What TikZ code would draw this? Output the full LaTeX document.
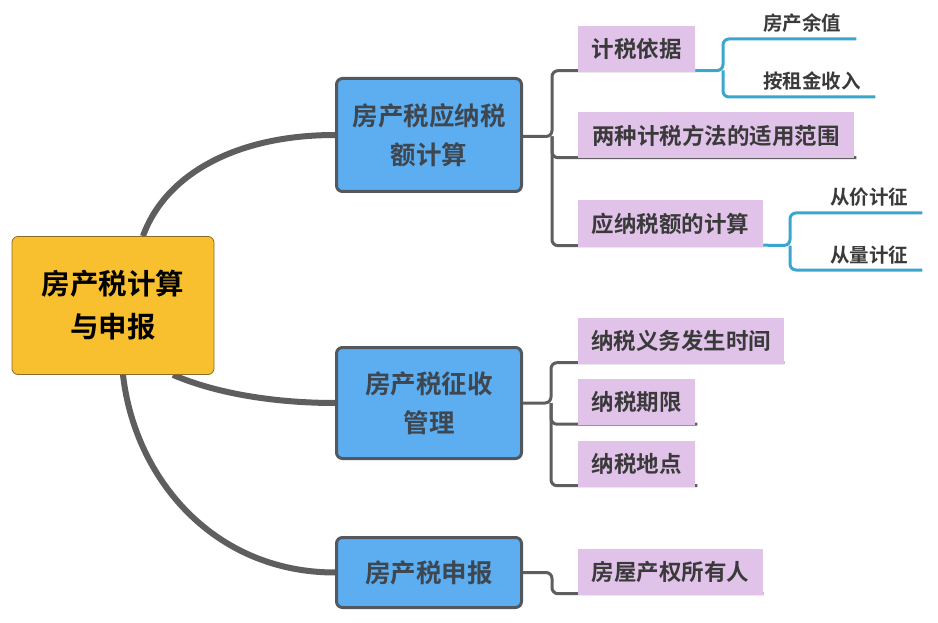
\documentclass[tikz,border=0pt]{standalone}
\usepackage{fontspec}
\usepackage{xcolor}
\usetikzlibrary{positioning,backgrounds}
\newfontfamily\cjk{Noto Sans CJK SC Bold}
\definecolor{amarillo}{HTML}{F8BF2E}
\definecolor{bordeRaiz}{HTML}{8A6A2A}
\definecolor{azulCaja}{HTML}{5CAEF0}
\definecolor{bordeTema}{HTML}{52585D}
\definecolor{textoTema}{HTML}{3E4650}
\definecolor{rosa}{HTML}{E1C3EA}
\definecolor{textoGris}{HTML}{3A3A3A}
\definecolor{grisRama}{HTML}{5E5E5E}
\definecolor{azulLinea}{HTML}{3AA6CE}

\begin{document}
\begin{tikzpicture}[x=1pt,y=-1pt,
    raiz/.style={draw=bordeRaiz, line width=0.8pt, fill=amarillo, rounded corners=6pt,
        minimum width=202pt, minimum height=138pt, align=center,
        font=\cjk\fontsize{28.5}{43}\selectfont, text=black},
    tema/.style={draw=bordeTema, line width=3pt, fill=azulCaja, rounded corners=6pt,
        minimum width=185pt, align=center,
        font=\cjk\fontsize{25.5}{39}\selectfont, text=textoTema},
    subtema/.style={fill=rosa, minimum height=46pt, inner xsep=0pt, anchor=west,
        font=\cjk\fontsize{22.5}{26}\selectfont, text=textoGris},
    hoja/.style={anchor=south west, inner xsep=0pt, inner ysep=6pt, align=left,
        font=\cjk\fontsize{19.5}{23}\selectfont, text=textoGris},
    rama/.style={draw=grisRama, line width=6pt},
    guia/.style={draw=grisRama, line width=3pt, rounded corners=6pt},
    guiaAzul/.style={draw=azulLinea, line width=3pt, rounded corners=6pt}]
    \useasboundingbox (0,0) rectangle (938,623);

    % Tema central y temas principales
    \node[raiz] (centro) at (113,305.5) {房产税计算\\与申报};
    \node[tema, minimum height=113pt] (calculo) at (429,135) {房产税应纳税\\额计算};
    \node[tema, minimum height=111pt] (gestion) at (429,403) {房产税征收\\管理};
    \node[tema, minimum height=70pt] (declaracion) at (429,572.5) {房产税申报};

    % Subtemas
    \node[subtema, minimum width=117pt] (base) at (578,49) {计税依据};
    \node[subtema, minimum width=276pt] (metodos) at (578,135.5) {两种计税方法的适用范围};
    \node[subtema, minimum width=185pt] (importe) at (578,223.5) {应纳税额的计算};
    \node[subtema, minimum width=206pt] (momento) at (578,341) {纳税义务发生时间};
    \node[subtema, minimum width=117pt] (plazo) at (578,402) {纳税期限};
    \node[subtema, minimum width=117pt] (lugar) at (578,463.5) {纳税地点};
    \node[subtema, minimum width=185pt] (titular) at (578,572) {房屋产权所有人};

    % Hojas
    \node[hoja, text width=93pt] (residual) at (763,39) {房产余值};
    \node[hoja, text width=112pt] (alquiler) at (763,97) {按租金收入};
    \node[hoja, text width=92pt] (valor) at (830,213) {从价计征};
    \node[hoja, text width=92pt] (cantidad) at (830,270) {从量计征};

    \begin{scope}[on background layer]
        \fill[white] (0,0) rectangle (938,623);
        % Ramas desde el centro
        \draw[rama] ([xshift=30pt]centro.north) .. controls (165,175) and (235,135) .. (calculo.west);
        \draw[rama] ([xshift=60pt]centro.south) .. controls (220,395) and (280,403) .. (gestion.west);
        \draw[rama] ([xshift=10pt]centro.south) .. controls (135,480) and (215,572.5) .. (declaracion.west);

        % Corchetes grises
        \draw[guia] ([yshift=-1.5pt]calculo.east) -- (552,136.5) |- ([yshift=1.5pt]base.south east);
        \draw[guia] (552,136.5) |- ([xshift=2pt,yshift=1pt]metodos.south east);
        \draw[guia] (552,136.5) |- ([yshift=1pt]importe.south east);
        \draw[guia] (gestion.east) -- (551,403) |- ([yshift=1.5pt]momento.south east);
        \draw[guia] (551,403) |- ([xshift=2pt,yshift=1pt]plazo.south east);
        \draw[guia] (551,403) |- ([xshift=2pt,yshift=1pt]lugar.south east);
        \draw[guia] (declaracion.east) -- (552,572.5) |- ([yshift=1.5pt]titular.south east);

        % Corchetes azules
        \draw[guiaAzul] ([yshift=1.5pt]base.south east) -- (723,70.5) |- (residual.south east);
        \draw[guiaAzul] (723,70.5) |- (alquiler.south east);
        \draw[guiaAzul] ([yshift=1.5pt]importe.south east) -- (790,245.5) |- (valor.south east);
        \draw[guiaAzul] (790,245.5) |- (cantidad.south east);
    \end{scope}
\end{tikzpicture}
\end{document}
